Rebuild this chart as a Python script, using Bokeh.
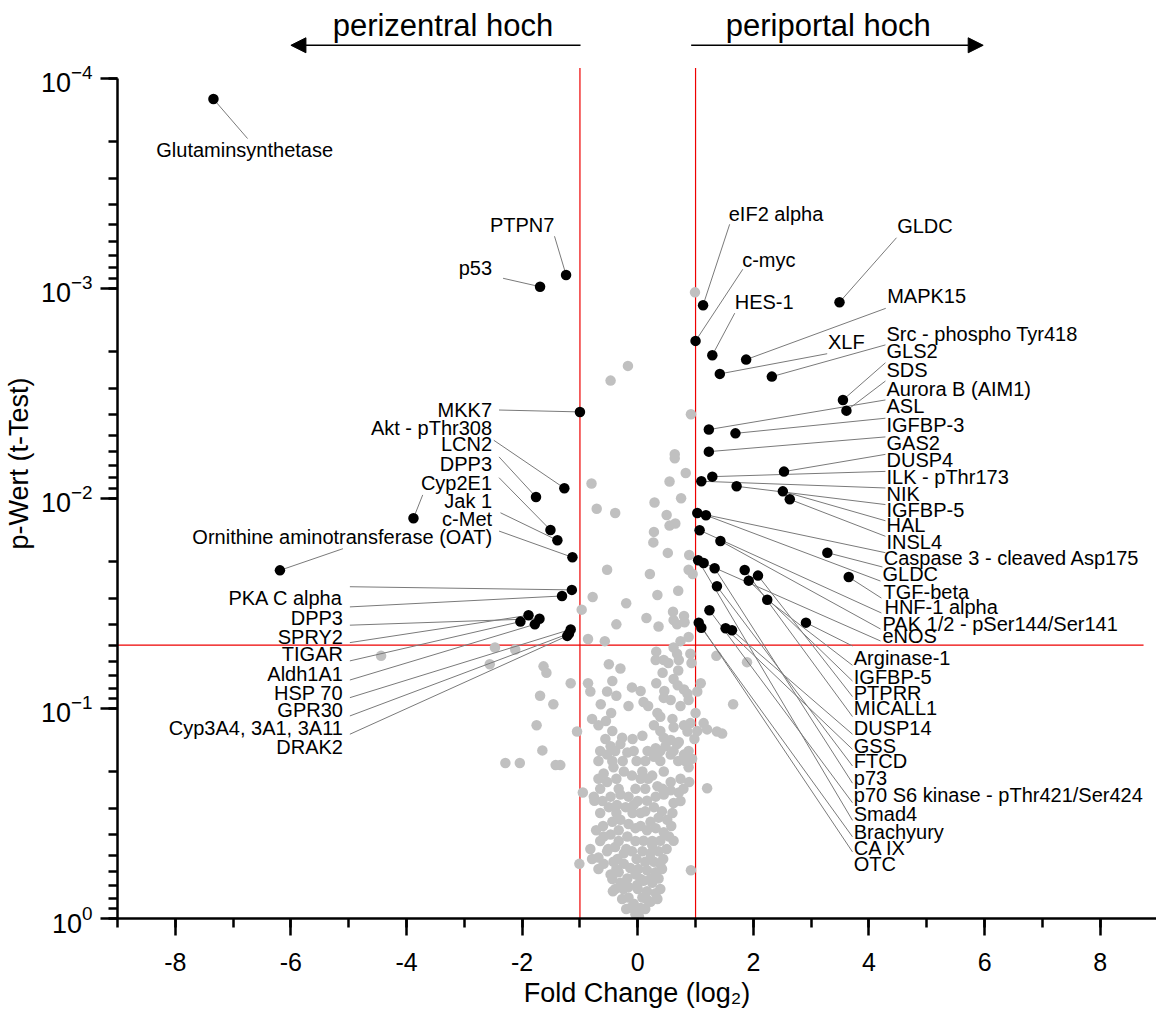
from bokeh.plotting import figure
from bokeh.models import (Range1d, LogTicker, SingleIntervalTicker, Label, Arrow,
                          NormalHead, ColumnDataSource, LogTickFormatter)
from bokeh.embed import file_html
from bokeh.resources import INLINE
from bokeh.core.properties import value

FONT = "Liberation Sans"

# thresholds drawn as red lines
FC_CUT = 1.0
P_CUT = 0.05

# ---------------- data: non-significant proteins (grey) -----------------
# fold change (log2) and -log10(p)
gray_fc = [0.99, -0.17, -0.47, 0.92, 0.64, 0.64, 0.83, 0.55, -0.80, 0.75,
           0.29, -0.71, -0.39, 0.50, 0.65, 0.55, 0.28, 0.27, 0.52, 0.89,
           -0.53, 0.21, 0.88, 0.95, 0.70, 0.34, -0.78, -0.20, -0.97, 0.61,
           0.80, 0.81, 0.15, -0.37, 0.36, 0.62, 0.68, 0.88, -0.86, -0.57,
           0.74, 0.62, -4.44, -2.47, -2.12, -2.56, -1.63, -1.58, -1.69, -1.46,
           -1.75, -1.65, -2.29, -2.04, -1.42, -1.34, -1.16, -1.05, -0.95, -1.01,
           -0.76, -0.75, 1.36, 1.89, 1.65, 1.37, 1.46, 1.20, 0.92, 0.91,
           1.09, 1.03, 0.32, 0.31, 0.45, 0.68, 0.71, -0.50, -0.30, 0.70,
           0.43, -0.86, -0.82, -0.44, -0.10, 0.32, 0.62, 0.69, 0.80, 0.86,
           0.88, -0.53, -0.37, -0.64, 0.10, 0.45, 0.57, -0.79, -0.68, -0.55,
           -0.27, 0.08, 0.28, 0.39, 0.60, 0.62, 0.80, 0.91, 0.86, 1.14,
           1.20, 0.45, 0.57, 0.71, -0.47, -0.30, -0.18, -0.53, -0.59, -0.42,
           -0.24, -0.10, -0.53, 0.08, 0.31, 0.48, 0.68, 0.80, 0.39, 0.28,
           0.57, 0.45, 0.25, 0.57, 0.34, 0.94, 0.88, 0.89, 0.71, 0.62,
           -0.47, -0.30, -0.16, -0.50, -0.36, -0.21, -0.07, 0.16, 0.31, 0.45,
           0.57, 0.13, 0.28, 0.42, 0.22, 0.36, 0.51, -0.44, -0.30, -0.16,
           -0.47, -0.33, -0.18, -0.04, 0.16, 0.31, 0.45, 0.10, 0.25, 0.39,
           0.54, 0.62, -0.72, -0.68, -0.53, -0.39, -0.24, -0.10, -0.59, -0.42,
           -0.24, -0.13, 0.08, 0.22, 0.36, 0.13, 0.28, 0.39, 0.16, 0.31,
           -0.47, -0.33, -0.18, -0.04, -0.30, -0.16, -0.01, 0.10, 0.25, 0.36,
           0.16, 0.31, 0.08, 0.22, -0.16, -0.07, -0.01, -0.13, 0.05, -0.04,
           0.02, -0.43, -0.59,
           -0.65, -0.39, -0.07, 0.17, 0.39, 0.62, 0.88, -0.68, -0.44, -0.26,
           -0.02, 0.13, 0.70, 0.82, -0.68, -0.37, 0.05, 0.18, 0.74, -0.65,
           -0.33, -0.04, 0.13, 0.43, 0.79, -0.61, 0.00, 0.74, -0.65, -0.37,
           -0.09, 0.05, 0.60, -0.60, 0.05, 0.58, -0.65, -0.33, -0.04, 0.25,
           -0.82, -0.51, -0.20, 0.50, -0.79, -0.35, -0.02, 0.22, 0.44, -0.68,
           -0.37, 0.01, 0.42, -0.44, 0.05, 0.22, -0.39, -0.25, 0.00, 0.39,
           -0.27, 0.15, 0.34, -0.20, 0.13, -0.16, 0.18, 0.74, -0.46, 0.34,
           1.00, -0.44, 0.39, 1.03, -0.56, -0.09, 0.98, 0.05, 0.46, 0.53,
           0.93]
gray_nlp = [2.98, 2.63, 2.56, 2.40, 2.21, 2.19, 2.12, 2.08, 2.07, 2.00,
            1.98, 1.95, 1.93, 1.92, 1.88, 1.87, 1.84, 1.79, 1.74, 1.73,
            1.66, 1.64, 1.66, 1.64, 1.56, 1.54, 1.53, 1.50, 1.47, 1.46,
            1.44, 1.41, 1.43, 1.40, 1.39, 1.42, 1.40, 1.34, 1.33, 1.32,
            1.32, 1.29, 1.25, 1.29, 1.28, 1.21, 1.20, 1.17, 1.06, 1.02,
            0.92, 0.80, 0.74, 0.74, 0.73, 0.73, 1.12, 0.89, 0.60, 0.26,
            0.58, 0.56, 1.25, 1.22, 1.02, 0.89, 0.88, 0.62, 0.23, 1.26,
            1.12, 1.08, 1.27, 1.23, 1.23, 1.26, 1.23, 1.21, 1.19, 1.18,
            1.17, 1.12, 1.08, 1.13, 1.10, 1.12, 1.14, 1.11, 1.09, 1.07,
            1.04, 1.08, 1.06, 1.02, 1.03, 1.05, 1.04, 0.95, 0.92, 0.94,
            0.86, 0.87, 0.92, 0.96, 0.95, 0.91, 0.92, 0.93, 0.89, 0.93,
            0.90, 0.86, 0.85, 0.84, 0.82, 0.83, 0.79, 0.78, 0.69, 0.72,
            0.70, 0.68, 0.65, 0.70, 0.81, 0.82, 0.83, 0.78, 0.75, 0.77,
            0.78, 0.70, 0.68, 0.65, 0.63, 0.76, 0.72, 0.65, 0.60, 0.55,
            0.58, 0.59, 0.58, 0.53, 0.54, 0.53, 0.54, 0.56, 0.58, 0.59,
            0.61, 0.51, 0.53, 0.51, 0.46, 0.48, 0.47, 0.46, 0.47, 0.45,
            0.40, 0.42, 0.39, 0.43, 0.42, 0.43, 0.41, 0.37, 0.35, 0.37,
            0.39, 0.37, 0.42, 0.29, 0.32, 0.34, 0.31, 0.32, 0.26, 0.27,
            0.26, 0.24, 0.32, 0.31, 0.32, 0.27, 0.27, 0.26, 0.23, 0.22,
            0.21, 0.22, 0.19, 0.21, 0.17, 0.15, 0.16, 0.18, 0.17, 0.19,
            0.13, 0.12, 0.10, 0.08, 0.10, 0.07, 0.04, 0.05, 0.05, 0.02,
            0.01, 0.13, 0.39,
            0.797, 0.797, 0.797, 0.797, 0.797, 0.797, 0.797, 0.750, 0.750, 0.750,
            0.750, 0.750, 0.750, 0.750, 0.665, 0.665, 0.665, 0.665, 0.665, 0.617,
            0.617, 0.617, 0.617, 0.617, 0.617, 0.559, 0.559, 0.559, 0.502, 0.502,
            0.502, 0.502, 0.502, 0.440, 0.440, 0.440, 0.369, 0.369, 0.369, 0.369,
            0.331, 0.331, 0.331, 0.331, 0.283, 0.283, 0.283, 0.283, 0.283, 0.236,
            0.236, 0.236, 0.236, 0.188, 0.188, 0.188, 0.140, 0.140, 0.140, 0.140,
            0.093, 0.093, 0.093, 0.045, 0.045, 1.011, 1.011, 1.011, 0.978, 0.978,
            0.978, 0.892, 0.892, 0.892, 0.854, 0.854, 0.854, 1.083, 1.083, 1.216,
            1.216]

# ---------------- data: labelled proteins (black) -----------------
hit_names = ["Glutaminsynthetase", "PTPN7", "p53", "MKK7", "Akt - pThr308", "LCN2",
             "DPP3", "Cyp2E1", "Jak 1", "c-Met", "Ornithine aminotransferase (OAT)",
             "PKA C alpha", "DPP3", "SPRY2", "TIGAR", "Aldh1A1", "HSP 70", "GPR30",
             "Cyp3A4, 3A1, 3A11", "DRAK2",
             "eIF2 alpha", "GLDC", "c-myc", "HES-1", "MAPK15", "XLF",
             "Src - phospho Tyr418", "GLS2", "SDS", "Aurora B (AIM1)", "ASL",
             "IGFBP-3", "GAS2", "DUSP4", "ILK - pThr173", "NIK", "IGFBP-5", "HAL",
             "INSL4", "Caspase 3 - cleaved Asp175", "GLDC", "TGF-beta", "HNF-1 alpha",
             "PAK 1/2 - pSer144/Ser141", "eNOS", "Arginase-1", "IGFBP-5", "PTPRR",
             "MICALL1", "DUSP14", "GSS", "FTCD", "p73",
             "p70 S6 kinase - pThr421/Ser424", "Smad4", "Brachyury", "CA IX", "OTC"]
hit_fc = [-7.34, -1.24, -1.69, -1.00, -1.27, -1.76, -1.51, -3.88, -1.39, -1.13, -6.19,
          -1.14, -1.31, -1.70, -1.89, -2.03, -1.78, -1.16, -1.19, -1.22,
          1.13, 3.49, 1.00, 1.29, 1.875, 1.42, 2.32, 3.55, 3.61, 1.23, 1.69,
          1.23, 2.53, 1.29, 1.10, 1.71, 2.51, 2.63, 1.03, 3.28, 1.18, 3.65, 1.07,
          1.43, 1.14, 2.91, 2.24, 1.92, 2.08, 1.85, 1.63, 1.52, 1.37,
          1.33, 1.24, 1.045, 1.10, 1.055]
hit_nlp = [3.90, 3.063, 3.007, 2.411, 2.048, 2.006, 1.849, 1.905, 1.800, 1.719, 1.657,
           1.564, 1.535, 1.427, 1.443, 1.413, 1.400, 1.376, 1.356, 1.345,
           2.919, 2.933, 2.749, 2.681, 2.660, 2.592, 2.579, 2.468, 2.417, 2.327, 2.309,
           2.222, 2.127, 2.103, 2.081, 2.057, 2.033, 1.995, 1.930, 1.741, 1.919, 1.625, 1.848,
           1.797, 1.692, 1.408, 1.517, 1.608, 1.632, 1.659, 1.372, 1.381, 1.581,
           1.667, 1.467, 1.705, 1.384, 1.408]

# ---------------- layout of the annotations (placement only) -----------------
lab_fc = [-6.80, -2.00, -2.81, -2.52, -2.52, -2.52, -2.52, -2.52, -2.52, -2.52, -2.52,
          -5.10, -5.10, -5.10, -5.10, -5.10, -5.10, -5.10, -5.10, -5.10,
          1.574, 4.488, 1.806, 1.678, 4.315, 3.29, 4.303, 4.303, 4.303, 4.303, 4.303,
          4.303, 4.303, 4.303, 4.303, 4.303, 4.303, 4.303, 4.303, 4.256, 4.234, 4.251, 4.268,
          4.234, 4.234, 3.737, 3.737, 3.737, 3.737, 3.737, 3.737, 3.737, 3.737,
          3.737, 3.737, 3.737, 3.737, 3.737]
lab_nlp = [3.656, 3.301, 3.098, 2.420, 2.333, 2.257, 2.162, 2.074, 1.987, 1.900, 1.816,
           1.524, 1.429, 1.340, 1.257, 1.165, 1.075, 0.991, 0.905, 0.816,
           3.352, 3.296, 3.133, 2.934, 2.963, 2.742, 2.783, 2.702, 2.611, 2.522, 2.438,
           2.349, 2.263, 2.181, 2.101, 2.022, 1.946, 1.871, 1.793, 1.714, 1.638, 1.555, 1.483,
           1.403, 1.345, 1.241, 1.149, 1.075, 1.000, 0.905, 0.821, 0.750, 0.670,
           0.588, 0.496, 0.412, 0.334, 0.261]
lab_align = ["center", "center", "center"] + ["right"] * 17 + ["left"] * 38
lead_fc = [-6.75, -1.44, -2.33, -2.40, -2.49, -2.40, -2.40, -3.72, -2.375, -2.40, -5.10,
           -4.98, -4.98, -4.98, -4.98, -4.98, -4.98, -4.98, -4.98, -4.98,
           1.59, 4.476, 1.817, 1.678, 4.29, 3.277, 4.285, 4.285, 4.285, 4.285, 4.285,
           4.285, 4.285, 4.285, 4.285, 4.285, 4.285, 4.285, 4.285, 4.233, 4.199, 4.215, 4.215,
           4.199, 4.199, 3.715, 3.715, 3.715, 3.715, 3.715, 3.715, 3.715, 3.715,
           3.715, 3.715, 3.715, 3.715, 3.715]
lead_nlp = [3.712, 3.247, 3.047, 2.420, 2.276, 2.197, 2.098, 2.016, 1.931, 1.844, 1.760,
            1.579, 1.483, 1.396, 1.313, 1.226, 1.135, 1.051, 0.964, 0.877,
            3.304, 3.240, 3.090, 2.881, 2.904, 2.688, 2.730, 2.645, 2.558, 2.468, 2.381,
            2.292, 2.209, 2.128, 2.049, 1.970, 1.893, 1.819, 1.741, 1.673, 1.606, 1.525, 1.454,
            1.378, 1.321, 1.297, 1.205, 1.130, 1.056, 0.961, 0.877, 0.805, 0.726,
            0.644, 0.551, 0.467, 0.389, 0.317]

x_tick_values = [-8, -6, -4, -2, 0, 2, 4, 6, 8]


def to_p(vals):
    return [10.0 ** (-v) for v in vals]


X_MIN, X_MAX = -9.0, 8.974
Y_TOP_NLP = 4.331

p = figure(width=1156, height=1010,
           x_range=Range1d(X_MIN, X_MAX), y_range=Range1d(1.0, 10 ** (-Y_TOP_NLP)),
           y_axis_type="log", output_backend="svg", toolbar_location=None,
           min_border_left=117, min_border_right=0, min_border_top=8, min_border_bottom=92)
p.outline_line_color = None
p.xgrid.visible = False
p.ygrid.visible = False
p.background_fill_color = "white"
p.border_fill_color = "white"

xa = p.xaxis[0]
ya = p.yaxis[0]
xa.ticker = SingleIntervalTicker(interval=2, num_minor_ticks=2)
xa.major_label_overrides = {v: str(v) for v in x_tick_values}
ya.ticker = LogTicker(num_minor_ticks=10)
ya.formatter = LogTickFormatter()
ya.bounds = (1e-4, 1.0)
xa.axis_label = "Fold Change (log\u2082)"
ya.axis_label = "p-Wert (t-Test)"
for ax in (xa, ya):
    ax.axis_line_width = 2.5
    ax.axis_line_color = "black"
    ax.major_tick_line_width = 2.5
    ax.minor_tick_line_width = 2.5
    ax.major_tick_out = 17
    ax.major_tick_in = 0
    ax.minor_tick_out = 9
    ax.minor_tick_in = 0
    ax.major_label_text_font = FONT
    ax.major_label_text_color = "black"
    ax.axis_label_text_font = FONT
    ax.axis_label_text_font_size = "27px"
    ax.axis_label_text_font_style = "normal"
    ax.axis_label_text_color = "black"
xa.major_label_text_font_size = "25px"
ya.major_label_text_font_size = "27px"
xa.major_label_standoff = 17
xa.axis_label_standoff = 4
ya.major_label_standoff = 8
ya.axis_label_standoff = 4

# threshold lines
p.segment(x0=[-FC_CUT, FC_CUT], y0=[1.0, 1.0], x1=[-FC_CUT, FC_CUT],
          y1=[10 ** -4.048, 10 ** -4.048], line_color="#ee0000", line_width=1.2)
p.segment(x0=[X_MIN], y0=[P_CUT], x1=[8.75], y1=[P_CUT], line_color="#ee0000", line_width=1.2)

# grey points
p.scatter(x=gray_fc, y=to_p(gray_nlp), size=10.5, fill_color="#c0c0c0",
          line_color=None, marker="circle")

# leader lines
p.segment(x0=hit_fc, y0=to_p(hit_nlp), x1=lead_fc, y1=to_p(lead_nlp),
          line_color="#7a7a7a", line_width=1)

# labelled points
p.scatter(x=hit_fc, y=to_p(hit_nlp), size=10.5, fill_color="black",
          line_color=None, marker="circle")

for al in ("left", "right", "center"):
    idx = [i for i, a in enumerate(lab_align) if a == al]
    src = ColumnDataSource(dict(x=[lab_fc[i] for i in idx],
                                y=to_p([lab_nlp[i] for i in idx]),
                                t=[hit_names[i] for i in idx]))
    p.text(x="x", y="y", text="t", source=src, text_align=al, text_baseline="middle",
           text_font=value(FONT), text_font_size=value("20px"), text_color="black")

# direction arrows and headers
ARROW_NLP = 4.156
p.add_layout(Arrow(end=NormalHead(size=15, fill_color="black", line_color="black"),
                   x_start=-0.99, y_start=10 ** -ARROW_NLP, x_end=-6.0, y_end=10 ** -ARROW_NLP,
                   line_width=1.5, line_color="black"))
p.add_layout(Arrow(end=NormalHead(size=15, fill_color="black", line_color="black"),
                   x_start=0.924, y_start=10 ** -ARROW_NLP, x_end=5.976, y_end=10 ** -ARROW_NLP,
                   line_width=1.5, line_color="black"))
p.add_layout(Label(x=-3.37, y=10 ** -4.250, text="perizentral hoch", text_align="center",
                   text_baseline="middle", text_font=FONT, text_font_size="31px",
                   text_color="black"))
p.add_layout(Label(x=3.296, y=10 ** -4.250, text="periportal hoch", text_align="center",
                   text_baseline="middle", text_font=FONT, text_font_size="31px",
                   text_color="black"))

open("out.html", "w").write(file_html(p, INLINE))
